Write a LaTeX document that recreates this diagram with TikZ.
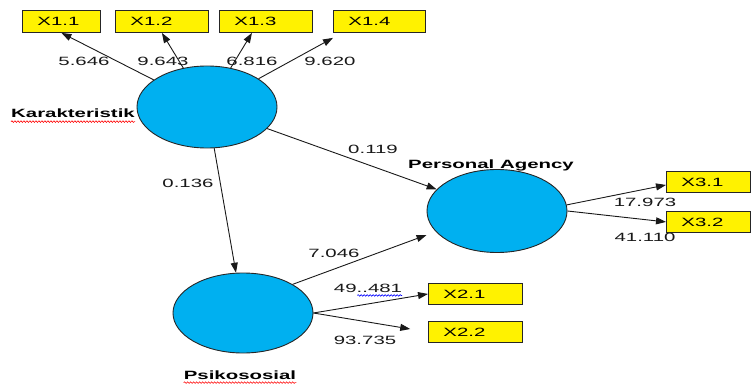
\documentclass[tikz,border=0pt]{standalone}
\usepackage{fontspec}
\setmainfont{Liberation Sans}[FakeStretch=1.7]
\usetikzlibrary{shapes.geometric,arrows.meta,decorations.pathmorphing}
\definecolor{latentblue}{RGB}{0,176,240}

\begin{document}
\begin{tikzpicture}[x=1pt,y=-1pt]
	\tikzstyle{latent} = [ellipse, draw=black!85, line width=0.9pt, fill=latentblue, inner sep=0pt, minimum width=140pt, minimum height=82pt];
	\tikzstyle{indicator} = [draw=black!85, line width=0.9pt, fill=yellow, anchor=north west, inner xsep=15pt, inner ysep=0pt, minimum height=22pt, align=left, font=\fontsize{12}{14}\selectfont];
	\tikzstyle{coef} = [font=\fontsize{12}{14}\selectfont, inner sep=0pt, text=black!90];
	\tikzstyle{lvname} = [font=\bfseries\fontsize{12}{14}\selectfont, inner sep=0pt];
	\tikzstyle{link} = [draw=black!90, line width=0.9pt, -{Triangle[length=10pt,width=7pt]}];
	\tikzstyle{spell} = [decorate, decoration={snake, amplitude=0.8pt, segment length=3pt}, line width=0.6pt];

	\useasboundingbox (0,0) rectangle (752,385);

	\node[latent] at (207,107) (kar) {};
	\node[latent, minimum height=83pt] at (497,211) (pa) {};
	\node[latent, minimum height=80pt] at (243,313) (psi) {};

	\node[indicator, text width=48pt] at (22,10) (x11) {X1.1};
	\node[indicator, text width=63pt] at (115,10) (x12) {X1.2};
	\node[indicator, text width=63pt] at (219,10) (x13) {X1.3};
	\node[indicator, text width=62pt] at (333,10) (x14) {X1.4};

	\node[indicator, text width=64pt, minimum height=21pt] at (428,283) (x21) {X2.1};
	\node[indicator, text width=64pt, minimum height=21pt] at (428,321) (x22) {X2.2};

	\node[indicator, text width=54pt, minimum height=21pt] at (666,171) (x31) {X3.1};
	\node[indicator, text width=54pt, minimum height=21pt] at (666,211) (x32) {X3.2};

	\node[lvname, anchor=east] at (135,113) (karlabel) {Karakteristik};
	\node[lvname] at (491,165) (palabel) {Personal Agency};
	\node[lvname] at (240,375) (psilabel) {Psikososial};

	\draw[link] (kar) -- (x11.south);
	\draw[link] (kar) -- (x12.south);
	\draw[link] (kar) -- ([xshift=-14pt]x13.south);
	\draw[link] (kar) -- ([yshift=-5pt]x14.south west);
	\draw[link] (kar) -- (pa);
	\draw[link] (kar) -- (psi);
	\draw[link] (psi.30) -- ([yshift=-24pt]pa.west);
	\draw[link] (psi.east) -- (x21.west);
	\draw[link, shorten >=18pt] (psi.east) -- (x22.west);
	\draw[link] (pa.5) -- ([yshift=-3pt]x31.west);
	\draw[link] (pa.east) -- (x32.west);

	\node[coef] at (84,61) (w11) {5.646};
	\node[coef] at (163,61) (w12) {9.643};
	\node[coef] at (252,61) (w13) {6.816};
	\node[coef] at (330,61) (w14) {9.620};
	\node[coef] at (373,149) (wkpa) {0.119};
	\node[coef] at (188,183) (wkpsi) {0.136};
	\node[coef] at (334,253) (wpsipa) {7.046};
	\node[coef] at (368,288) (w21) {49..481};
	\node[coef] at (365,340) (w22) {93.735};
	\node[coef] at (645,202) (w31) {17.973};
	\node[coef] at (645,237) (w32) {41.110};

	\draw[spell, red] ([yshift=-4pt]karlabel.south west) -- ([yshift=-4pt]karlabel.south east);
	\draw[spell, red] ([yshift=-3pt]psilabel.south west) -- ([yshift=-3pt]psilabel.south east);
	\draw[spell, blue] ([xshift=-45pt,yshift=-3pt]w21.south east) -- ([yshift=-3pt]w21.south east);
\end{tikzpicture}
\end{document}
